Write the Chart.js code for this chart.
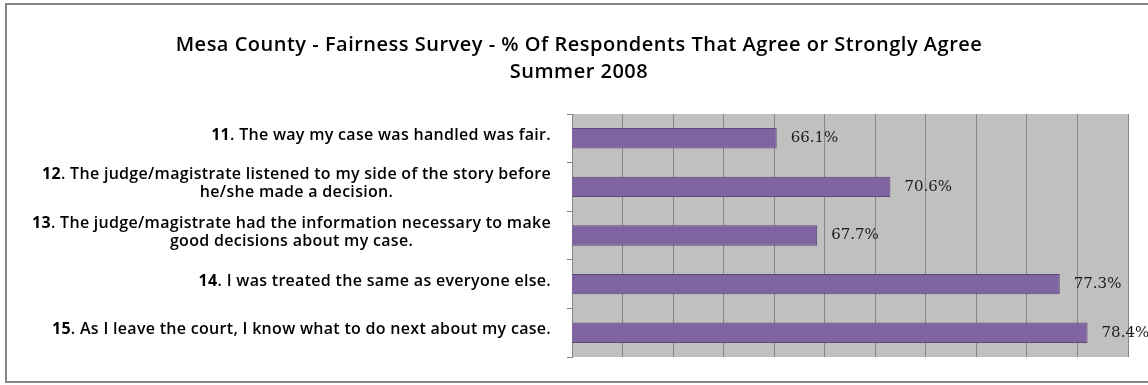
<!DOCTYPE html>
<html>
<head>
<meta charset="utf-8">
<script src="https://cdn.jsdelivr.net/npm/chart.js@4.4.0/dist/chart.umd.min.js"></script>
<style>
  html, body { margin: 0; padding: 0; background: #fff; }
  #wrap { position: relative; width: 1148px; height: 385px; }
</style>
</head>
<body>
<div id="wrap"><canvas id="chart"></canvas></div>
<script>
// survey questions (lines as shown in the chart)
const questions = [
  ['11. The way my case was handled was fair.'],
  ['12. The judge/magistrate listened to my side of the story before', 'he/she made a decision.'],
  ['13. The judge/magistrate had the information necessary to make', 'good decisions about my case.'],
  ['14. I was treated the same as everyone else.'],
  ['15. As I leave the court, I know what to do next about my case.']
];
// % of respondents that agree or strongly agree
const agreePct = [66.1, 70.6, 67.7, 77.3, 78.4];
const titleLines = [
  'Mesa County - Fairness Survey - % Of Respondents That Agree or Strongly Agree',
  'Summer 2008'
];
// value axis range (no tick labels shown in the original)
const axisMin = 58;
const axisMax = 80;
const axisStep = 2;

const labelFont = '"Open Sans", Lato, sans-serif';

// gray plot fill + outer frame
const frame = {
  id: 'frame',
  beforeDraw(chart) {
    const { ctx, chartArea: a } = chart;
    ctx.save();
    ctx.fillStyle = '#c0c0c0';
    ctx.fillRect(a.left, a.top, a.right - a.left, a.bottom - a.top);
    ctx.strokeStyle = '#868686';
    ctx.lineWidth = 2;
    ctx.strokeRect(6, 4, 1160, 378);
    ctx.restore();
    // the old Excel title is drawn a bit spaced out
    ctx.letterSpacing = '0.5px';
  },
  beforeDatasetsDraw(chart) {
    chart.ctx.letterSpacing = '0px';
  }
};

// question labels: block right aligned, lines centred, number in bold
const questionLabels = {
  id: 'questionLabels',
  afterDraw(chart) {
    const { ctx } = chart;
    const yScale = chart.scales.y;
    const right = yScale.right - 21;
    const size = 16;
    const lineH = 18;
    const bodyFont = '600 ' + size + 'px ' + labelFont;
    const numFont = 'bold ' + size + 'px ' + labelFont;
    ctx.save();
    ctx.letterSpacing = '0.3px';
    ctx.fillStyle = '#000';
    ctx.textBaseline = 'middle';
    ctx.textAlign = 'left';
    questions.forEach((lines, i) => {
      const cy = yScale.getPixelForTick(i);
      const parts = lines.map((line, j) => {
        const m = j === 0 ? line.match(/^(\d+)(.*)$/) : null;
        const num = m ? m[1] : '';
        const rest = m ? m[2] : line;
        ctx.font = numFont;
        const wNum = ctx.measureText(num).width;
        ctx.font = bodyFont;
        const wRest = ctx.measureText(rest).width;
        return { num, rest, wNum, w: wNum + wRest };
      });
      const maxW = Math.max(...parts.map(p => p.w));
      const centerX = right - maxW / 2;
      parts.forEach((p, j) => {
        const y = cy + (j - (parts.length - 1) / 2) * lineH - 3;
        let x = centerX - p.w / 2;
        if (p.num) {
          ctx.font = numFont;
          ctx.fillText(p.num, x, y);
          x += p.wNum;
        }
        ctx.font = bodyFont;
        ctx.fillText(p.rest, x, y);
      });
    });
    ctx.restore();
  }
};

// value labels at the end of each bar
const valueLabels = {
  id: 'valueLabels',
  afterDatasetsDraw(chart) {
    const { ctx } = chart;
    const meta = chart.getDatasetMeta(0);
    ctx.save();
    ctx.font = '15px "DejaVu Serif", serif';
    ctx.fillStyle = '#1a1a1a';
    ctx.textAlign = 'left';
    ctx.textBaseline = 'middle';
    meta.data.forEach((bar, i) => {
      ctx.fillText(agreePct[i].toFixed(1) + '%', bar.x + 14, bar.y);
    });
    ctx.restore();
  }
};

new Chart(document.getElementById('chart'), {
  type: 'bar',
  data: {
    labels: questions,
    datasets: [{
      data: agreePct,
      backgroundColor: '#8064a2',
      borderColor: '#5c4776',
      borderWidth: 1,
      borderSkipped: false,
      barPercentage: 0.42,
      categoryPercentage: 1
    }]
  },
  options: {
    indexAxis: 'y',
    responsive: true,
    maintainAspectRatio: false,
    animation: false,
    layout: { padding: { left: 30, right: 20, top: 0, bottom: 28 } },
    plugins: {
      legend: { display: false },
      tooltip: { enabled: false },
      title: {
        display: true,
        text: titleLines,
        color: '#000',
        font: { family: labelFont, size: 20, weight: '600', lineHeight: 1.35 },
        padding: { top: 32, bottom: 28 }
      }
    },
    scales: {
      x: {
        min: axisMin,
        max: axisMax,
        ticks: { display: false, stepSize: axisStep },
        grid: { color: '#868686', drawTicks: false },
        border: { display: false }
      },
      y: {
        afterFit(scale) { scale.width = 542; },
        ticks: { display: false },
        grid: { drawOnChartArea: false, offset: true, tickLength: 5, color: '#868686' },
        border: { display: true, color: '#868686' }
      }
    }
  },
  plugins: [frame, questionLabels, valueLabels]
});
</script>
</body>
</html>
